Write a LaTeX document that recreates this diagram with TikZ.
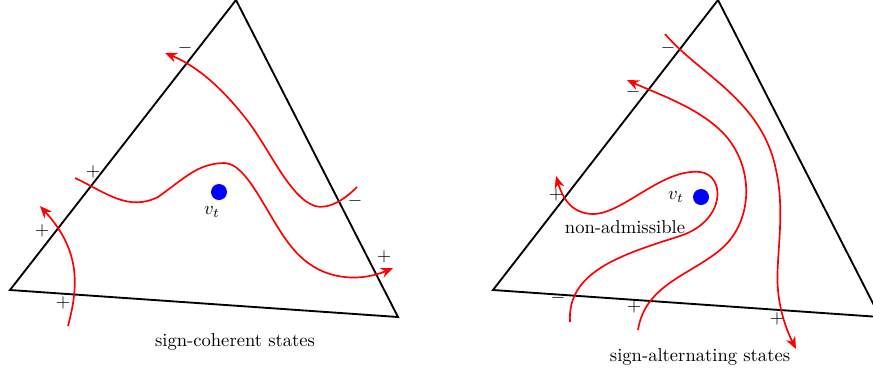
\documentclass[tikz,border=0pt]{standalone}
\usepackage{amsmath,amssymb}
\usepackage{tikz}
\usetikzlibrary{positioning,arrows.meta}

\begin{document}
\begin{tikzpicture}[
x=0.5376pt, y=-0.5376pt,
side/.style={line width=1pt, black, line join=miter},
flow/.style={-{Stealth[length=2.3mm, width=1.9mm]}, line width=0.9pt, red},
plain/.style={line width=0.9pt, red},
sgn/.style={inner sep=0pt},
state/.style={circle, fill=blue, inner sep=0pt, minimum size=8.6pt}
]
\useasboundingbox (0,0) rectangle (873,375);

% sign-coherent simplex
\coordinate (a1) at (10,290);
\coordinate (b1) at (236,0);
\coordinate (c1) at (398,317);
\draw[side] (a1) -- (b1) -- (c1) -- cycle;

\node[state] (v1) at (219,192) {};
\node (vt1) at (212,212) {$v_t$};

\draw[flow] (68,326) .. controls (79,285) and (80,250) .. (40,206);
\draw[flow] (75,178) .. controls (105,192) and (128,212) .. (158,197)
  .. controls (185,178) and (198,163) .. (225,163)
  .. controls (252,165) and (272,232) .. (302,258)
  .. controls (330,283) and (365,280) .. (393,268);
\draw[flow] (357,187) .. controls (346,198) and (330,210) .. (315,206)
  .. controls (290,198) and (270,150) .. (247,120)
  .. controls (222,88) and (197,66) .. (165,53);

\node[sgn] (p1) at (63,303) {$+$};
\node[sgn] (p2) at (42,231) {$+$};
\node[sgn] (p3) at (93,172) {$+$};
\node[sgn] (p4) at (384,257) {$+$};
\node[sgn] (m1) at (185,48) {$-$};
\node[sgn] (m2) at (355,201) {$-$};

\node (cap1) at (235,342) {sign-coherent states};

% sign-alternating simplex
\coordinate (a2) at (493,290);
\coordinate (b2) at (718,0);
\coordinate (c2) at (880,317);
\draw[side] (a2) -- (b2) -- (c2) -- cycle;

\node[state] (v2) at (701,197) {};
\node (vt2) at (676,197) {$v_t$};
\node (na) at (625,227) {non-admissible};

\draw[flow] (570,322) .. controls (567,272) and (620,255) .. (680,236)
  .. controls (726,221) and (726,175) .. (700,172)
  .. controls (662,168) and (622,215) .. (592,214)
  .. controls (570,213) and (562,196) .. (556,176);
\draw[flow] (638,330) .. controls (645,285) and (690,275) .. (720,250)
  .. controls (752,224) and (756,170) .. (725,135)
  .. controls (700,108) and (660,95) .. (627,80);
\draw[flow] (665,34) .. controls (700,75) and (762,100) .. (776,170)
  .. controls (786,215) and (775,260) .. (778,290)
  .. controls (780,315) and (789,335) .. (796,349);

\node[sgn] (p5) at (556,195) {$+$};
\node[sgn] (p6) at (634,307) {$+$};
\node[sgn] (p7) at (777,319) {$+$};
\node[sgn] (m3) at (558,298) {$-$};
\node[sgn] (m4) at (633,92) {$-$};
\node[sgn] (m5) at (668,48) {$-$};

\node (cap2) at (700,357) {sign-alternating states};
\end{tikzpicture}
\end{document}
